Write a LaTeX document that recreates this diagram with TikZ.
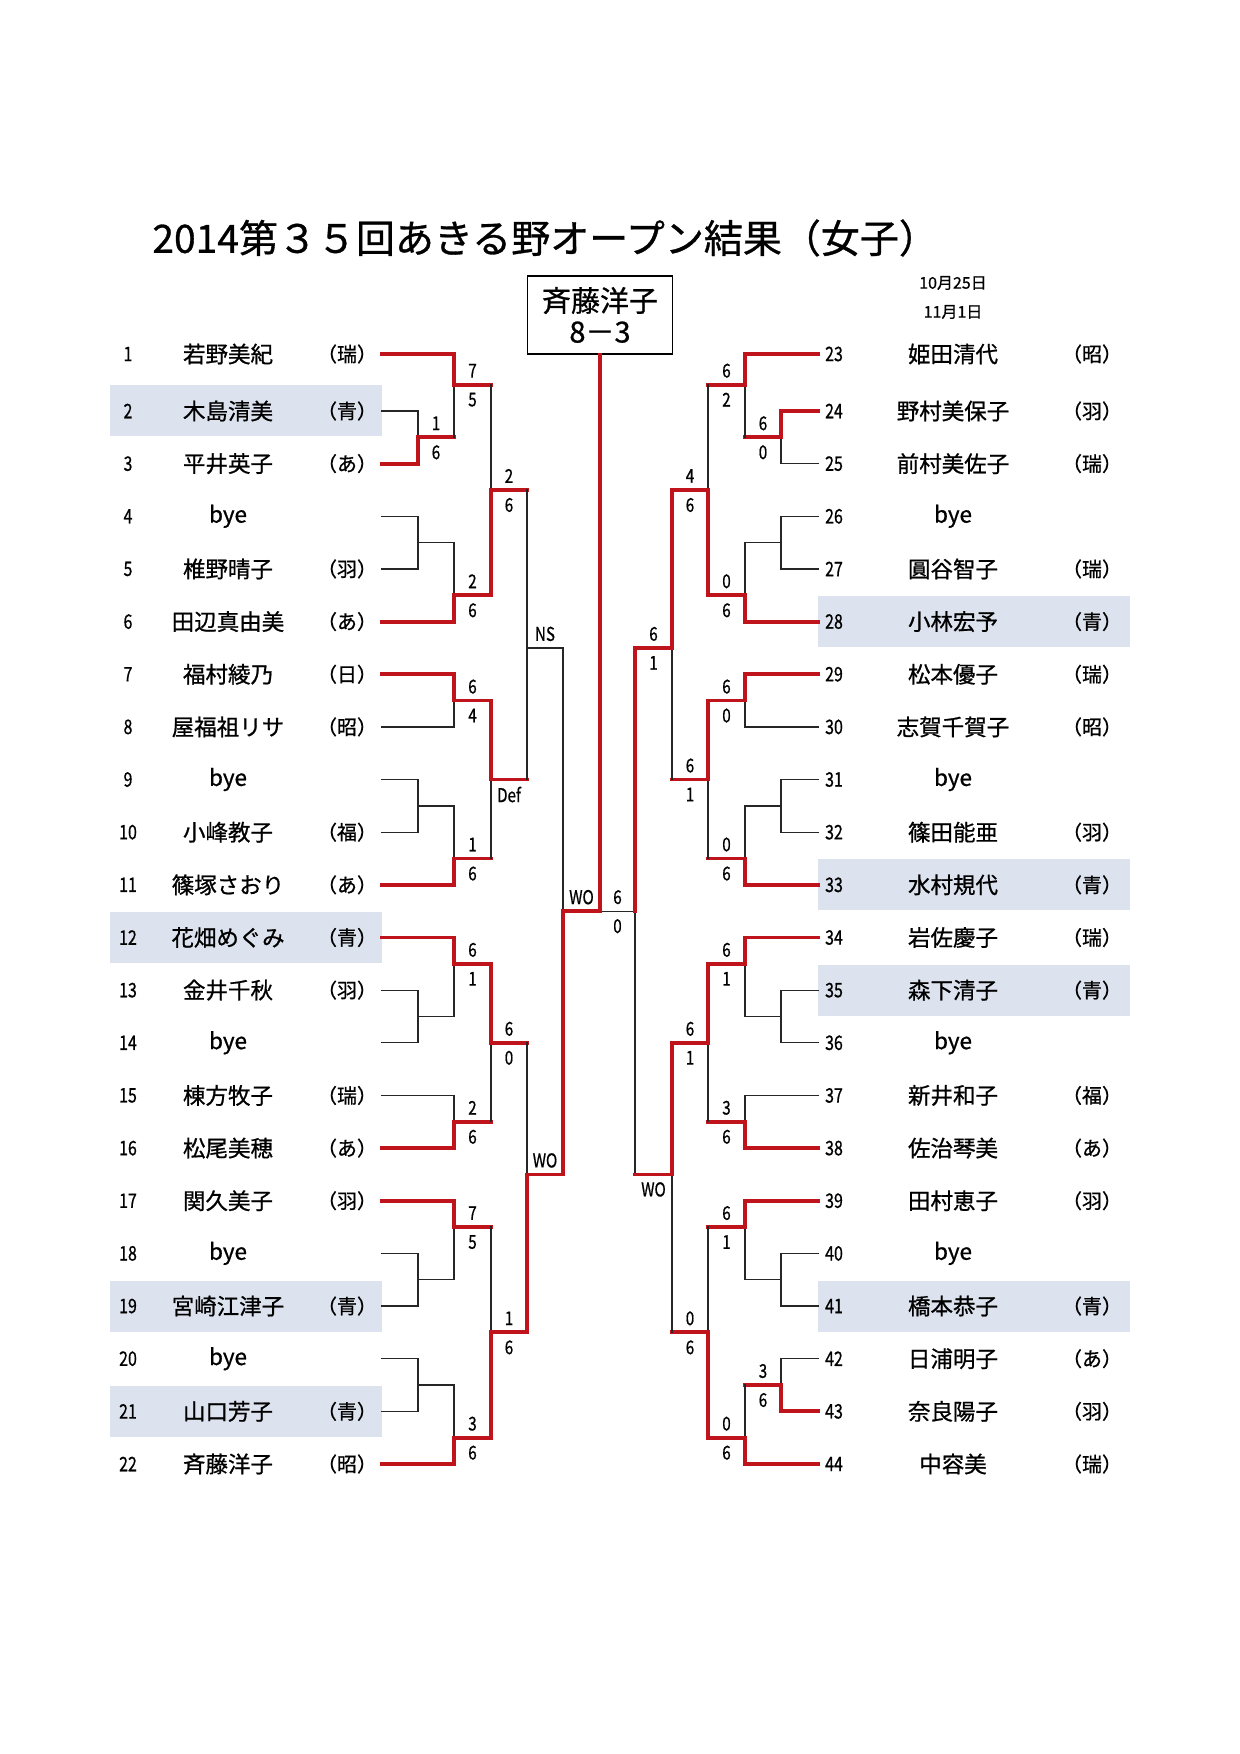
\documentclass[tikz,border=0pt]{standalone}
\usepackage{fontspec}
\setmainfont{Noto Sans CJK JP}[FakeBold=0.8]
\usepackage{graphicx}
\usepackage{xcolor}
\definecolor{winred}{HTML}{C0141C}
\definecolor{rowshade}{HTML}{DDE3EE}
\definecolor{lineink}{HTML}{262626}
\usepackage{tikz}
\usetikzlibrary{calc}
\newcommand{\ry}[1]{(358.35+26.325*(#1)-4.35*((#1)==0))}
\newcommand{\cnd}[1]{\scalebox{0.8}[1]{#1}}

\begin{document}
\begin{tikzpicture}[x=0.5pt, y=-0.5pt,
    bline/.style={draw=lineink, line width=0.65pt, line cap=rect},
    win/.style={draw=winred, line width=1.9pt, line cap=rect},
    pl0/.style={bline}, pl1/.style={win},
    score/.style={font=\fontsize{9.5}{10}\selectfont, inner sep=0pt},
    num/.style={font=\fontsize{10}{11}\selectfont, inner sep=0pt},
    pname/.style={font=\fontsize{11.25}{12}\selectfont, inner sep=0pt},
    club/.style={font=\fontsize{10}{11}\selectfont, inner sep=0pt}]
  \useasboundingbox (0,0) rectangle (1239,1754);
  % title, dates, champion
  \node[anchor=west, inner sep=0pt, font=\fontsize{19.5}{20}\selectfont] (title) at (152,238) {2014第３５回あきる野オープン結果（女子）};
  \node[font=\fontsize{8}{9}\selectfont, inner sep=0pt] (day1) at (953,283) {10月25日};
  \node[font=\fontsize{8}{9}\selectfont, inner sep=0pt] (day2) at (953,312) {11月1日};
  \node[draw=black, line width=0.7pt, minimum width=72.5pt, minimum height=39pt, align=center,
        font=\fontsize{14.5}{15.5}\selectfont, inner sep=0pt] (champ) at (600,315) {斉藤洋子\\8－3};

  % shaded rows
  \foreach \k in {2,22,36,40}
    \fill[rowshade] (110,{\ry{\k}-25.5}) rectangle (382,{\ry{\k}+25.5});
  \foreach \k in {10,20,24,36}
    \fill[rowshade] (818,{\ry{\k}-25.5}) rectangle (1130,{\ry{\k}+25.5});

  % left players
  \foreach \n/\nm/\cl/\e/\w in {1/若野美紀/（瑞）/454/1, 2/木島清美/（青）/418/0, 3/平井英子/（あ）/418/1,
      4/bye/{}/418/0, 5/椎野晴子/（羽）/418/0, 6/田辺真由美/（あ）/454/1, 7/福村綾乃/（日）/454/1,
      8/屋福祖リサ/（昭）/454/0, 9/bye/{}/418/0, 10/小峰教子/（福）/418/0, 11/篠塚さおり/（あ）/454/1,
      12/花畑めぐみ/（青）/454/1, 13/金井千秋/（羽）/418/0, 14/bye/{}/418/0, 15/棟方牧子/（瑞）/454/0,
      16/松尾美穂/（あ）/454/1, 17/関久美子/（羽）/454/1, 18/bye/{}/418/0, 19/宮崎江津子/（青）/418/0,
      20/bye/{}/418/0, 21/山口芳子/（青）/418/0, 22/斉藤洋子/（昭）/454/1} {
    \pgfmathtruncatemacro{\k}{2*(\n-1)}
    \node[num] (num\n) at (128,{\ry{\k}}) {\cnd{\n}};
    \node[pname] (name\n) at (228,{\ry{\k}}) {\nm};
    \node[club] (club\n) at (347,{\ry{\k}}) {\cl};
    \coordinate (s\n) at (382,{\ry{\k}});
    \coordinate (e\n) at (\e,{\ry{\k}});
    \draw[pl\w] (s\n) -- (e\n);
  }

  % right players
  \foreach \n/\nm/\cl/\e/\w in {23/姫田清代/（昭）/745/1, 24/野村美保子/（羽）/781/1, 25/前村美佐子/（瑞）/781/0,
      26/bye/{}/781/0, 27/圓谷智子/（瑞）/781/0, 28/小林宏予/（青）/745/1, 29/松本優子/（瑞）/745/1,
      30/志賀千賀子/（昭）/745/0, 31/bye/{}/781/0, 32/篠田能亜/（羽）/781/0, 33/水村規代/（青）/745/1,
      34/岩佐慶子/（瑞）/745/1, 35/森下清子/（青）/781/0, 36/bye/{}/781/0, 37/新井和子/（福）/745/0,
      38/佐治琴美/（あ）/745/1, 39/田村恵子/（羽）/745/1, 40/bye/{}/781/0, 41/橋本恭子/（青）/781/0,
      42/日浦明子/（あ）/781/0, 43/奈良陽子/（羽）/781/1, 44/中容美/（瑞）/745/1} {
    \pgfmathtruncatemacro{\k}{2*(\n-23)}
    \node[num] (num\n) at (834,{\ry{\k}}) {\cnd{\n}};
    \node[pname] (name\n) at (953,{\ry{\k}}) {\nm};
    \node[club] (club\n) at (1092,{\ry{\k}}) {\cl};
    \coordinate (s\n) at (818,{\ry{\k}});
    \coordinate (e\n) at (\e,{\ry{\k}});
    \draw[pl\w] (s\n) -- (e\n);
  }

  % bouts: level x / next x / top / bottom / joint / winner / scores
  \foreach \xa/\xb/\ka/\kb/\kj/\w/\sa/\sb in {
      418/454/2/4/3/b/1/6, 454/491/0/3/1/t/7/5, 418/454/6/8/7/n/{}/{}, 454/491/7/10/9/b/2/6,
      491/527/1/9/5/b/2/6, 454/491/12/14/13/t/6/4, 418/454/16/18/17/n/{}/{}, 454/491/17/20/19/b/1/6,
      491/527/13/19/16/t/{}/Def, 527/563/5/16/11/n/NS/{}, 563/600/11/31/21/b/WO/{},
      418/454/24/26/25/n/{}/{}, 454/491/22/25/23/t/6/1, 454/491/28/30/29/b/2/6, 491/527/23/29/26/t/6/0,
      418/454/34/36/35/n/{}/{}, 454/491/32/35/33/t/7/5, 418/454/38/40/39/n/{}/{}, 454/491/39/42/41/b/3/6,
      491/527/33/41/37/b/1/6, 527/563/26/37/31/b/WO/{},
      781/745/2/4/3/t/6/0, 745/708/0/3/1/t/6/2, 781/745/6/8/7/n/{}/{}, 745/708/7/10/9/b/0/6,
      708/672/1/9/5/b/4/6, 745/708/12/14/13/t/6/0, 781/745/16/18/17/n/{}/{}, 745/708/17/20/19/b/0/6,
      708/672/13/19/16/t/6/1, 672/635/5/16/11/t/6/1, 635/600/11/31/21/v/6/0,
      781/745/24/26/25/n/{}/{}, 745/708/22/25/23/t/6/1, 745/708/28/30/29/b/3/6, 708/672/23/29/26/t/6/1,
      781/745/34/36/35/n/{}/{}, 745/708/32/35/33/t/6/1, 781/745/38/40/39/b/3/6, 745/708/39/42/41/b/0/6,
      708/672/33/41/37/b/0/6, 672/635/26/37/31/t/{}/WO} {
    \coordinate (bt) at (\xa,{\ry{\ka}});
    \coordinate (bb) at (\xa,{\ry{\kb}});
    \coordinate (bj) at (\xa,{\ry{\kj}});
    \coordinate (bn) at (\xb,{\ry{\kj}});
    \draw[bline] (bt) -- (bb) (bj) -- (bn);
    \if t\w \draw[win] (bt) -- (bj) -- (bn); \fi
    \if b\w \draw[win] (bb) -- (bj) -- (bn); \fi
    \if v\w \draw[win] (bt) -- (bj); \fi
    \node[score] (up) at ($(bj)!.5!(bn)+(0,-14)$) {\cnd{\sa}};
    \node[score] (dn) at ($(bj)!.5!(bn)+(0,15)$) {\cnd{\sb}};
  }

  % final to the champion box
  \coordinate (fin) at (600,{\ry{21}});
  \draw[win] (fin) -- (champ.south);
\end{tikzpicture}
\end{document}
